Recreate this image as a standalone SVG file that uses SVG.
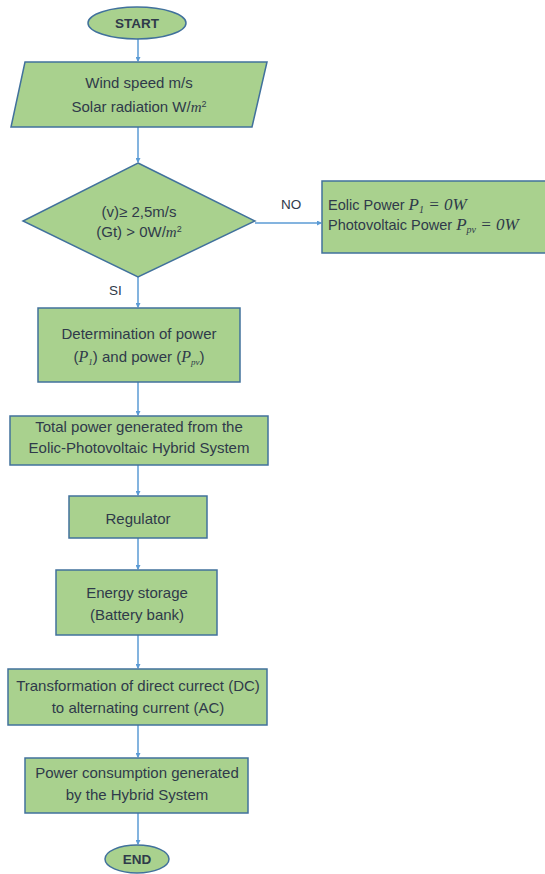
<svg xmlns="http://www.w3.org/2000/svg" width="545" height="874" viewBox="0 0 545 874">
<defs>
<marker id="ah" markerWidth="5" markerHeight="5" refX="4" refY="2.5" orient="auto" markerUnits="userSpaceOnUse">
<path d="M0,0 L5,2.5 L0,5 z" fill="#5b9bd5"/>
</marker>
<style>
.shape{fill:#a9d18e;stroke:#41719c;stroke-width:1.5}
.t{font-family:"Liberation Sans",Arial,sans-serif;font-size:15px;fill:#2f3a4a;text-anchor:middle}
.tl{font-family:"Liberation Sans",Arial,sans-serif;font-size:14.5px;fill:#2f3a4a}
.b{font-weight:bold;font-size:13.5px}
.m{font-family:"Liberation Serif","Times New Roman",serif;font-style:italic}
.c{fill:none;stroke:#5b9bd5;stroke-width:1.5;marker-end:url(#ah)}
.lbl{font-family:"Liberation Sans",Arial,sans-serif;font-size:13.5px;fill:#2f3a4a}
</style>
</defs>
<rect width="545" height="874" fill="#ffffff"/>
<g id="connectors">
<line class="c" x1="138" y1="39" x2="138" y2="61"/>
<line class="c" x1="138" y1="127" x2="138" y2="162"/>
<line class="c" x1="255" y1="223" x2="321" y2="223"/>
<line class="c" x1="138" y1="277" x2="138" y2="307"/>
<line class="c" x1="138" y1="382" x2="138" y2="415"/>
<line class="c" x1="138" y1="465" x2="138" y2="495"/>
<line class="c" x1="138" y1="538" x2="138" y2="569"/>
<line class="c" x1="138" y1="635" x2="138" y2="668"/>
<line class="c" x1="138" y1="725" x2="138" y2="757"/>
<line class="c" x1="138" y1="813" x2="138" y2="844"/>
<text class="lbl" x="281" y="209">NO</text>
<text class="lbl" x="109" y="295">SI</text>
</g>
<g id="start">
<ellipse class="shape" cx="137" cy="23" rx="49" ry="16"/>
<text class="t b" x="137" y="28">START</text>
</g>
<g id="input">
<polygon class="shape" points="25,62 267,62 252,127 11,127"/>
<text class="t" x="139" y="88">Wind speed m/s</text>
<text class="t" x="139" y="112">Solar radiation W/<tspan class="m">m</tspan><tspan font-size="9" dy="-5">2</tspan></text>
</g>
<g id="decision">
<polygon class="shape" points="138,163 255,221 138,277 23,221"/>
<text class="t" x="139" y="217">(v)≥ 2,5m/s</text>
<text class="t" x="139" y="237">(Gt) &gt; 0W/<tspan class="m">m</tspan><tspan font-size="9" dy="-5">2</tspan></text>
</g>
<g id="zero-power">
<rect class="shape" x="322" y="181" width="230" height="72"/>
<text class="tl" x="328" y="210">Eolic Power <tspan class="m" font-size="17">P</tspan><tspan class="m" font-size="10" dy="3">1</tspan><tspan class="m" font-size="17" dy="-3"> = 0W</tspan></text>
<text class="tl" x="328" y="230">Photovoltaic Power <tspan class="m" font-size="17">P</tspan><tspan class="m" font-size="10" dy="3">pv</tspan><tspan class="m" font-size="17" dy="-3"> = 0W</tspan></text>
</g>
<g id="determination">
<rect class="shape" x="38" y="308" width="202" height="74"/>
<text class="t" x="139" y="339">Determination of power</text>
<text class="t" x="139" y="362">(<tspan class="m" font-size="16">P</tspan><tspan class="m" font-size="9" dy="3">1</tspan><tspan dy="-3">) and power (</tspan><tspan class="m" font-size="16">P</tspan><tspan class="m" font-size="9" dy="3">pv</tspan><tspan dy="-3">)</tspan></text>
</g>
<g id="total">
<rect class="shape" x="10" y="416" width="258" height="49"/>
<text class="t" x="139" y="432">Total power generated from the</text>
<text class="t" x="139" y="453">Eolic-Photovoltaic Hybrid System</text>
</g>
<g id="regulator">
<rect class="shape" x="69" y="496" width="138" height="42"/>
<text class="t" x="138" y="524">Regulator</text>
</g>
<g id="storage">
<rect class="shape" x="56" y="570" width="161" height="65"/>
<text class="t" x="137" y="598">Energy storage</text>
<text class="t" x="137" y="620">(Battery bank)</text>
</g>
<g id="inverter">
<rect class="shape" x="8" y="669" width="259" height="56"/>
<text class="t" x="138" y="691">Transformation of direct currect (DC)</text>
<text class="t" x="138" y="713">to alternating current (AC)</text>
</g>
<g id="consumption">
<rect class="shape" x="25" y="758" width="223" height="55"/>
<text class="t" x="137" y="778">Power consumption generated</text>
<text class="t" x="137" y="800">by the Hybrid System</text>
</g>
<g id="end">
<ellipse class="shape" cx="137" cy="859" rx="32" ry="14"/>
<text class="t b" x="137" y="864">END</text>
</g>
</svg>
